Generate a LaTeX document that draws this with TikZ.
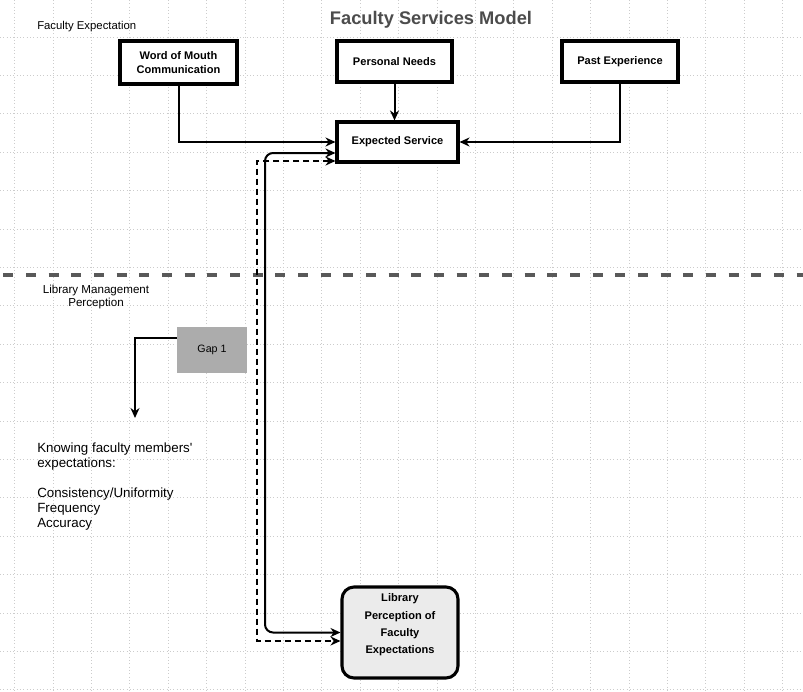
\documentclass[tikz,border=0pt]{standalone}
\usepackage{fontspec}
\setmainfont{Liberation Sans}
\usetikzlibrary{arrows.meta,calc}
\begin{document}
\begin{tikzpicture}[x=0.75pt,y=-0.75pt,
  gridline/.style={draw=gray!40, dotted, line width=0.5pt},
  box/.style={draw=black, line width=2.3pt, fill=white, inner sep=0pt, align=center,
    font=\fontsize{8.3}{10.5}\selectfont\bfseries},
  tip/.tip={Stealth[length=7.5pt,width=6.75pt]},
  arr/.style={-tip, line width=1.5pt},
  biarr/.style={tip-tip, line width=1.5pt},
  separator/.style={draw=black!65, line width=2.6pt, dash pattern=on 7.5pt off 9.5pt},
  plain/.style={inner sep=0pt}
]
\useasboundingbox (0,0) rectangle (803,692);
\fill[white] (0,0) rectangle (803,692);
% grid
\foreach \i in {0,...,20} \draw[gridline] ({14.5+38.4*\i},0) -- ({14.5+38.4*\i},692);
\foreach \j in {0,...,17} \draw[gridline] (0,{37+38.4*\j}) -- (803,{37+38.4*\j});

% separator
\draw[separator] (3.4,275) -- (803,275);

% texts
\node[plain, font=\fontsize{13.7}{16}\selectfont\bfseries, text=black!70] (title) at (431,20) {Faculty Services Model};
\node[plain, anchor=west, font=\fontsize{8.5}{10}\selectfont] (fe) at (37,27) {Faculty Expectation};
\node[plain, align=center, font=\fontsize{8.7}{9.75}\selectfont] (lmp) at (96,296.5) {Library Management\\Perception};
\node[plain, anchor=north west, align=left, font=\fontsize{10}{11.25}\selectfont] (know) at (37,442.5)
  {Knowing faculty members\textquotesingle\\expectations:\\[11.25pt]Consistency/Uniformity\\Frequency\\Accuracy};

% boxes
\node[box, minimum width=87.75pt, minimum height=32.25pt] (wom) at (178.5,62.5) {Word of Mouth\\Communication};
\node[box, minimum width=86.25pt, minimum height=30.75pt] (pn) at (394.5,61.5) {Personal Needs};
\node[box, minimum width=87pt, minimum height=30.75pt] (pe) at (620,61.5) {Past Experience};
\node[box, minimum width=90.75pt, minimum height=30pt] (es) at (397.5,142) {Expected Service};
\node[box, rounded corners=9pt, fill=black!8, minimum width=87pt, minimum height=68.25pt,
  font=\fontsize{8.3}{13.1}\selectfont\bfseries] (lib) at (400,632.5)
  {Library\\Perception of\\Faculty\\Expectations\\\mbox{}};
\node[fill=gray!65, inner sep=0pt, minimum width=52.5pt, minimum height=34.5pt,
  font=\fontsize{8}{10}\selectfont] (gap) at (212,350) {Gap 1};

% connectors
\draw[arr] (wom.south) |- (es.west);
\draw[arr] (pn.south) -- (pn.south |- es.north);
\draw[arr] (pe.south) |- (es.east);

\coordinate (vs) at (265,400);
\coordinate (vd) at (257,400);
\draw[biarr, rounded corners=6pt] ([yshift=-8.25pt]es.west) -| (vs) |- (lib.west);
\draw[biarr, dash pattern=on 4.5pt off 3pt] ([yshift=-14.25pt]es.west) -| (vd) |- ([yshift=-6.375pt]lib.west);

\coordinate (ge) at (135,418);
\draw[-tip, line width=1.1pt] ([yshift=9pt]gap.west) -| (ge);
\end{tikzpicture}
\end{document}
